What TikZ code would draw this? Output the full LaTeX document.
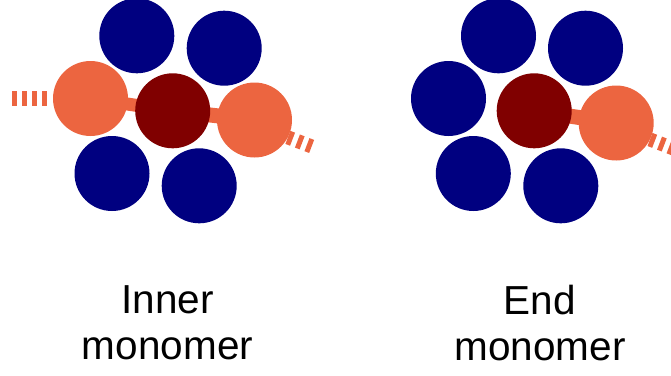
\documentclass[tikz,border=0pt]{standalone}
\usepackage{fontspec}
\setmainfont{Liberation Sans}
\usetikzlibrary{backgrounds}
\definecolor{navyb}{RGB}{0,0,128}
\definecolor{maroonc}{RGB}{128,0,0}
\definecolor{orangec}{RGB}{236,101,64}
\tikzset{
  atom/.style={circle, minimum size=75pt, inner sep=0pt, draw=none},
  blueatom/.style={atom, fill=navyb},
  redatom/.style={atom, fill=maroonc},
  orangeatom/.style={atom, fill=orangec},
  bond/.style={draw=orangec, line width=#1},
  bond/.default=14pt,
  dashbond/.style={draw=orangec, line width=#1, dash pattern=on 5pt off 5.2pt},
  dashbond/.default=14pt,
  label/.style={font=\fontsize{40.5}{46}\selectfont, align=center, inner sep=0pt, text=black}
}
\begin{document}
\begin{tikzpicture}[x=1pt, y=-1pt]
\useasboundingbox (0,0) rectangle (671,375);
% Inner monomer
\node[blueatom] (a1) at (136.8,35.8) {};
\node[blueatom] (a2) at (224.2,48.2) {};
\node[blueatom] (a3) at (112,173.5) {};
\node[blueatom] (a4) at (199.2,185.8) {};
\node[orangeatom] (lo) at (90.5,98.5) {};
\node[redatom] (dr1) at (172.7,110.8) {};
\node[orangeatom] (ro1) at (254.5,120) {};
% End monomer
\node[blueatom] (b1) at (498.5,35.8) {};
\node[blueatom] (b2) at (585.5,48.2) {};
\node[blueatom] (b3) at (473.3,173.5) {};
\node[blueatom] (b4) at (560.8,185.8) {};
\node[blueatom] (b5) at (448.5,98.5) {};
\node[redatom] (dr2) at (534.2,110.8) {};
\node[orangeatom] (ro2) at (616.2,123) {};
\begin{scope}[on background layer]
  \draw[bond=13pt] (lo.center) -- (dr1.center);
  \draw[bond=15pt] (dr1.center) -- (ro1.center);
  \draw[bond=15pt] (dr2.center) -- (ro2.center);
\end{scope}
% dashed bonds
\coordinate (d1s) at (12,98.5);
\coordinate (d1e) at (47,98.5);
\coordinate (d2s) at (287.9,137.4);
\coordinate (d2e) at (311.8,146.5);
\coordinate (d3s) at (650,139.5);
\coordinate (d3e) at (680,151);
\begin{scope}
  \clip (0,0) rectangle (671,375);
  \draw[dashbond=15pt, dash pattern=on 5pt off 5pt] (d1s) -- (d1e);
  \draw[dashbond] (d2s) -- (d2e);
  \draw[dashbond] (d3s) -- (d3e);
\end{scope}
% labels
\node[label] (t1) at (167.5,323.2) {Inner\\monomer};
\node[label] (t2) at (540,323.2) {End\\monomer};
\end{tikzpicture}
\end{document}
